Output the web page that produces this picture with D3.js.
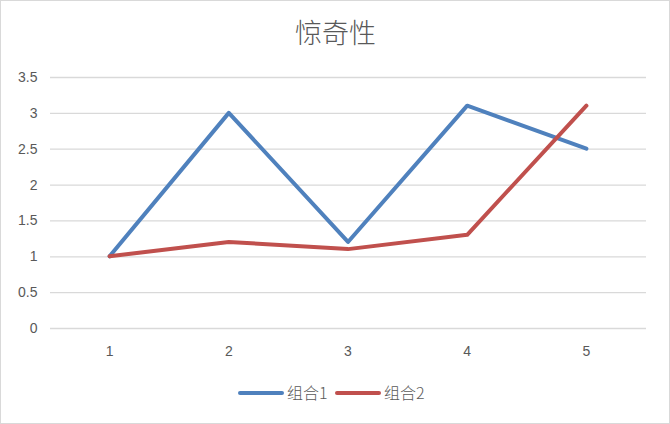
<!DOCTYPE html>
<html><head><meta charset="utf-8">
<script src="https://cdn.jsdelivr.net/npm/d3@7"></script>
<style>body{margin:0;background:#fff}svg{display:block}</style>
</head><body>
<script>
const categories = ["1","2","3","4","5"];
const seriesNames = ["组合1","组合2"];
const series1 = [1, 3, 1.2, 3.1, 2.5];
const series2 = [1, 1.2, 1.1, 1.3, 3.1];
const yTicks = [0,0.5,1,1.5,2,2.5,3,3.5];
const colors = ["#4F81BD","#C0504D"];
const title = "惊奇性";

(function(){
const W=670,H=424;
const svg=d3.select("body").append("svg").attr("width",W).attr("height",H);
svg.append("rect").attr("x",0.5).attr("y",0.5).attr("width",W-1).attr("height",H-1)
  .attr("fill","#fff").attr("stroke","#D9D9D9");

const pl=50,pr=646,pt=77,pb=328;
const x=d3.scaleBand().domain(categories).range([pl,pr]);
const y=d3.scaleLinear().domain([0,3.5]).range([pb,pt]);
const font="'Liberation Sans','Noto Sans CJK SC',sans-serif";

svg.append("text").attr("x",335.5).attr("y",43).attr("text-anchor","middle")
  .attr("font-family","'Noto Sans CJK SC',sans-serif").attr("font-weight",300).attr("font-size",27).attr("fill","#595959").text(title);

const gy=svg.append("g").attr("transform",`translate(${pl},0)`)
  .call(d3.axisLeft(y).tickValues(yTicks).tickSize(-(pr-pl)).tickFormat(d=>d));
gy.select(".domain").remove();
gy.selectAll("line").attr("stroke","#D9D9D9").attr("stroke-width",1.3);
gy.selectAll("text").attr("x",-12.5).attr("font-family",font).attr("font-size",14).attr("fill","#595959");

const gx=svg.append("g").attr("transform",`translate(0,${pb})`)
  .call(d3.axisBottom(x).tickSize(0));
gx.select(".domain").remove();
gx.selectAll("text").attr("dy","1.75em").attr("font-family",font).attr("font-size",14).attr("fill","#595959");

const line=d3.line().x((d,i)=>x(categories[i])+x.bandwidth()/2).y(d=>y(d));
[series1,series2].forEach((s,k)=>{
  svg.append("path").datum(s).attr("d",line).attr("fill","none")
    .attr("stroke",colors[k]).attr("stroke-width",4).attr("stroke-linecap","round").attr("stroke-linejoin","round");
});

const legX=[240,337];
seriesNames.forEach((n,k)=>{
  const g=svg.append("g").attr("transform",`translate(${legX[k]},393)`);
  g.append("line").attr("x1",0).attr("x2",42).attr("stroke",colors[k]).attr("stroke-width",4).attr("stroke-linecap","round");
  g.append("text").attr("x",47).attr("y",6).attr("font-family","'Noto Sans CJK SC',sans-serif").attr("font-weight",300).attr("font-size",16).attr("fill","#595959").text(n);
});
})();
</script>
</body></html>
